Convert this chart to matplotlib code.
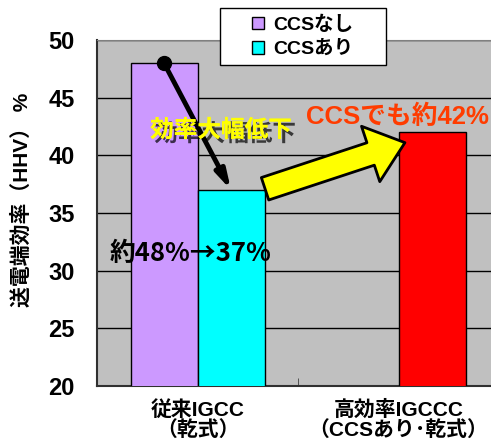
import numpy as np
import matplotlib.pyplot as plt
import matplotlib.patheffects as pe
from matplotlib.patches import Patch, Rectangle

plt.rcParams['font.family'] = ['Liberation Sans', 'Noto Sans CJK JP']
plt.rcParams['font.weight'] = 'bold'

# データ
categories = ['従来IGCC\n（乾式）', '高効率IGCCC\n（CCSあり･乾式）']
series_names = ['CCSなし', 'CCSあり']
ccs_nashi = [48, np.nan]
ccs_ari = [37, 42]
bar_colors_ari = ['#00FFFF', '#FF0000']
y_ticks = [20, 25, 30, 35, 40, 45, 50]

fig = plt.figure(figsize=(4.91, 4.46), dpi=100)
# 右端は画像の外まで伸びている
ax = fig.add_axes([97 / 491, 1 - 386 / 446, 402 / 491, 346 / 446])
ax.set_facecolor('#C0C0C0')

x = np.arange(len(categories))
w = 1 / 3
ax.bar(x - w / 2, ccs_nashi, w, color='#CC99FF', edgecolor='black', lw=1, zorder=3)
ax.bar(x + w / 2, ccs_ari, w, color=bar_colors_ari, edgecolor='black', lw=1, zorder=3)

ax.set_xlim(-0.5, 1.5)
ax.set_ylim(20, 50)
ax.set_yticks(y_ticks)
ax.set_yticklabels([str(t) for t in y_ticks], fontsize=17, fontweight='bold')
ax.tick_params(axis='y', length=0, pad=16)
ax.set_xticks([0.5], minor=True)
ax.set_xticks(x)
ax.set_xticklabels(categories, fontsize=15, fontweight='bold', linespacing=1.0)
ax.tick_params(axis='x', which='major', length=0, pad=10)
ax.tick_params(axis='x', which='minor', length=6, direction='in', color='#404040')
ax.grid(axis='y', color='black', lw=1, zorder=1)
for s in ['left', 'bottom']:
    ax.spines[s].set_color('#303030')
    ax.spines[s].set_linewidth(1.5)
ax.spines['top'].set_color('#808080')
ax.spines['right'].set_visible(False)

fig.text(22 / 491, 1 - 200 / 446, '送電端効率（HHV） %', rotation=90, fontsize=15,
         fontweight='bold', ha='center', va='center')

# 黒い矢印（48% → 37%）
x0 = x[0] - w / 2
x1 = x[0] + w / 2
ax.annotate('', xy=(x1, ccs_ari[0]), xytext=(x0, ccs_nashi[0]),
            arrowprops=dict(arrowstyle='-|>,head_width=0.3,head_length=1.1', color='black',
                            lw=3.5, shrinkA=0, shrinkB=0), zorder=5)
ax.plot(x0, ccs_nashi[0], 'o', color='black', ms=10, zorder=6)

ax.text(0.117, 42.2, '効率大幅低下', color='#FFFF00', fontsize=17, fontweight='bold',
        family='Noto Sans CJK JP', ha='center', va='center', zorder=7,
        path_effects=[pe.withSimplePatchShadow(offset=(3, -3), shadow_rgbFace='black', alpha=0.7),
                      pe.Normal()])
ax.text(-0.037, 31.5, '約48%→37%', color='black', fontsize=18.5, fontweight='bold',
        family='Noto Sans CJK JP', ha='center', va='center', zorder=7)

# 黄色い矢印
ax.annotate('', xy=(1.032, 41.1), xytext=(0.336, 37.1),
            arrowprops=dict(arrowstyle='simple,head_width=2.1,head_length=1.3,tail_width=0.85',
                            mutation_scale=20, fc='#FFFF00', ec='black', lw=2,
                            shrinkA=0, shrinkB=0), zorder=5)
ax.text(0.54, 43.3, 'CCSでも約42%', color='#FF3C00', fontsize=18.5, fontweight='bold',
        ha='left', va='center', zorder=7)

# 凡例
fig.patches.append(Rectangle((220 / 491, 1 - 65 / 446), 166 / 491, 57 / 446,
                             transform=fig.transFigure, fc='white', ec='black', lw=1))
handles = [Patch(facecolor='#CC99FF', edgecolor='black'), Patch(facecolor='#00FFFF', edgecolor='black')]
fig.legend(handles, series_names, loc='center left', bbox_to_anchor=(252 / 491, 1 - 37 / 446),
           fontsize=14, frameon=False, handlelength=0.6, handleheight=0.6, handletextpad=0.5,
           borderpad=0, labelspacing=0.35, borderaxespad=0)

fig.savefig('out.png', dpi=100)
